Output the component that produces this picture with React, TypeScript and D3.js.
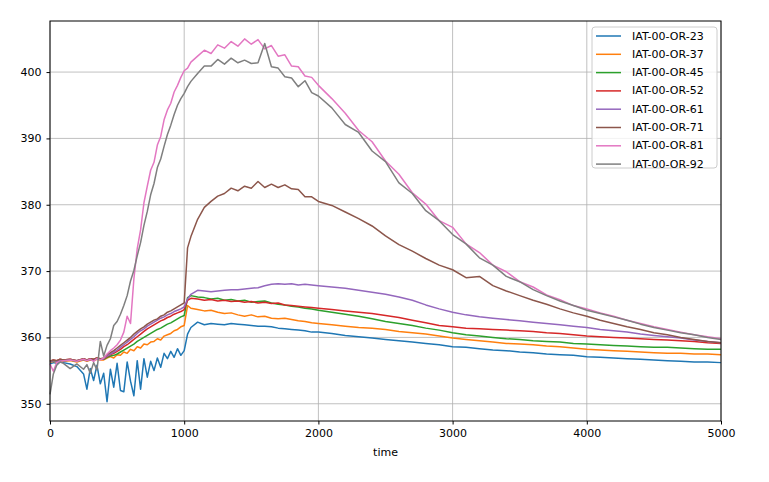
import { useEffect, useRef } from 'react';
import * as d3 from 'd3';

// sample times (s); denser where the traces are noisy
const times = [
  0, 25, 50, 75, 100,
  150, 200, 250,
  275, 300, 325, 350, 375, 400, 425, 450, 475, 500,
  525, 550, 575, 600, 625, 650, 675, 700, 725, 750,
  775, 800, 825, 850, 875, 900, 925, 950, 975, 1000,
  1025, 1050,
  1100, 1150, 1200, 1250, 1300, 1350, 1400, 1450, 1500, 1550, 1600, 1650, 1700, 1750, 1800, 1850, 1900, 1950, 2000,
  2100, 2200, 2300, 2400, 2500, 2600, 2700, 2800, 2900, 3000, 3100, 3200, 3300, 3400, 3500,
  3600, 3700, 3800, 3900, 4000, 4100, 4200, 4300, 4400, 4500, 4600, 4700, 4800, 4900, 5000,
];

const or23 = [
  356, 356.2, 356.1, 356.3, 356.2,
  356, 355.6, 354.5,
  352.2, 355.3, 353.5, 355.8, 353, 354.6, 350.3, 355.2, 352.5, 356.1,
  352, 351.8, 356.3, 353.4, 351.2, 356.5, 352.2, 356.8, 354, 356.4,
  355, 356.9, 355.5, 357.6, 356.8, 357.9, 357, 358.3, 357.3, 358,
  360.5, 361.5,
  362.3, 361.9, 362.1, 362, 361.9, 362.1, 362, 361.9, 361.8, 361.7, 361.7, 361.6, 361.4, 361.3, 361.2, 361.1, 361, 360.8, 360.8,
  360.6, 360.3, 360.1, 359.9, 359.7, 359.5, 359.3, 359.1, 358.9, 358.6, 358.5, 358.3, 358.1, 358, 357.8,
  357.7, 357.5, 357.4, 357.3, 357.1, 357, 356.9, 356.8, 356.7, 356.6, 356.5, 356.4, 356.3, 356.3, 356.2,
];

const or37 = [
  356.2, 356.4, 356.3, 356.5, 356.4,
  356.5, 356.3, 356.6,
  356.4, 356.6, 356.5, 356.7, 356.6, 356.6, 356.9, 357.1, 356.9, 357.4,
  357.3, 357.8, 357.6, 358.2, 358, 358.6, 358.4, 359, 358.9, 359.3,
  359.4, 359.8, 359.6, 360.2, 360.4, 360.6, 361, 361.2, 361.6, 361.8,
  364.8, 364.4,
  364.2, 364, 364.1, 363.8, 363.6, 363.7, 363.4, 363.2, 363.4, 363.1, 363.2, 362.9, 362.8, 362.9, 362.7, 362.5, 362.4, 362.2, 362.1,
  361.9, 361.7, 361.5, 361.4, 361.2, 360.9, 360.7, 360.5, 360.2, 359.9, 359.7, 359.5, 359.3, 359.1, 359,
  358.9, 358.7, 358.6, 358.4, 358.2, 358.1, 358, 357.9, 357.8, 357.7, 357.6, 357.6, 357.5, 357.5, 357.4,
];

const or45 = [
  356.3, 356.5, 356.4, 356.6, 356.5,
  356.6, 356.4, 356.7,
  356.5, 356.7, 356.6, 356.8, 356.7, 356.7, 357, 357.2, 357.3, 357.5,
  357.8, 358.1, 358.4, 358.7, 359, 359.4, 359.7, 360, 360.3, 360.6,
  360.9, 361.2, 361.4, 361.7, 362, 362.2, 362.5, 362.8, 363.1, 363.3,
  366, 366.3,
  366.1, 366, 365.8, 365.9, 365.6, 365.7, 365.5, 365.6, 365.3, 365.4, 365.5, 365.2, 365, 364.9, 364.7, 364.6, 364.4, 364.3, 364.1,
  363.8, 363.5, 363.2, 362.8, 362.4, 362.1, 361.8, 361.4, 361.1, 360.7, 360.4, 360.2, 360, 359.8, 359.7,
  359.5, 359.4, 359.3, 359.1, 359, 358.9, 358.8, 358.7, 358.6, 358.5, 358.5, 358.4, 358.3, 358.2, 358.2,
];

const or52 = [
  356.4, 356.6, 356.5, 356.7, 356.6,
  356.7, 356.5, 356.8,
  356.6, 356.8, 356.7, 356.9, 356.8, 356.8, 357.1, 357.4, 357.6, 357.9,
  358.2, 358.6, 358.9, 359.3, 359.7, 360.1, 360.5, 360.9, 361.3, 361.6,
  361.9, 362.2, 362.5, 362.7, 363, 363.2, 363.5, 363.7, 363.9, 364.2,
  365.6, 365.9,
  365.8, 365.6, 365.7, 365.5, 365.6, 365.4, 365.5, 365.3, 365.4, 365.2, 365.3, 365.1, 365.2, 364.9, 364.8, 364.7, 364.6, 364.5, 364.4,
  364.2, 364, 363.8, 363.6, 363.3, 363, 362.6, 362.2, 361.8, 361.6, 361.4, 361.3, 361.2, 361.1, 361,
  360.9, 360.7, 360.6, 360.4, 360.2, 360.1, 360, 359.9, 359.8, 359.7, 359.6, 359.5, 359.4, 359.2, 359.1,
];

const or61 = [
  356.3, 356.5, 356.4, 356.6, 356.5,
  356.6, 356.5, 356.7,
  356.5, 356.7, 356.6, 356.8, 356.7, 356.8, 357.2, 357.5, 357.8, 358.1,
  358.5, 358.9, 359.3, 359.7, 360.1, 360.6, 361, 361.3, 361.7, 362,
  362.3, 362.6, 362.9, 363.1, 363.4, 363.6, 363.9, 364.1, 364.3, 364.6,
  365.8, 366.5,
  367.1, 367, 366.9, 367, 367.1, 367.2, 367.2, 367.3, 367.4, 367.5, 367.8, 368, 368.1, 368, 368.1, 367.9, 368, 367.9, 367.8,
  367.6, 367.4, 367.1, 366.8, 366.5, 366.1, 365.6, 364.9, 364.3, 363.8, 363.4, 363.1, 362.9, 362.7, 362.5,
  362.3, 362.1, 361.9, 361.7, 361.5, 361.2, 361, 360.8, 360.5, 360.3, 360.1, 359.9, 359.6, 359.4, 359.2,
];

const or71 = [
  356.4, 356.6, 356.5, 356.7, 356.6,
  356.7, 356.5, 356.8,
  356.6, 356.8, 356.7, 356.9, 356.8, 356.9, 357.4, 357.7, 358, 358.4,
  358.8, 359.2, 359.6, 360, 360.5, 360.9, 361.3, 361.6, 362, 362.3,
  362.6, 362.8, 363.2, 363.4, 363.8, 364, 364.3, 364.6, 364.9, 365.2,
  373.5, 375.2,
  377.8, 379.6, 380.5, 381.3, 381.7, 382.5, 382.1, 382.8, 382.5, 383.5, 382.6, 383.1, 382.6, 383, 382.4, 382.3, 381.2, 381.2, 380.5,
  379.9, 378.9, 377.9, 376.8, 375.3, 374, 373, 371.9, 370.9, 370.2, 369, 369.2, 367.8, 367, 366.3,
  365.6, 365, 364.3, 363.7, 363.2, 362.6, 362.1, 361.6, 361.2, 360.7, 360.4, 360, 359.7, 359.4, 359.2,
];

const or81 = [
  356, 354.9, 356.2, 356.4, 356.5,
  356.6, 356.4, 356.7,
  356.5, 356.7, 356.4, 356.8, 356.6, 356.9, 357.5, 358, 358.4, 358.9,
  359.6, 360.8, 363.2, 362.1, 368.8, 373.4, 376.2, 380.3, 382.8, 385.2,
  386.4, 389, 390.3, 392.8, 394.3, 395.3, 397, 398, 399.2, 400.2,
  400.6, 401.5,
  402.4, 403.3, 402.8, 404.1, 403.6, 404.6, 403.9, 405, 404.2, 404.9, 403.5, 404, 402.4, 402.6, 400.9, 400.8, 399.4, 399.2, 398,
  396, 393.8, 391.2, 389.5, 386.6, 384.6, 381.8, 380.1, 377.6, 376.6, 374.1, 372.8, 370.9, 369.9, 368.4,
  367.6, 366.4, 365.7, 364.8, 364.3, 363.7, 363.2, 362.6, 362.1, 361.6, 361.2, 360.8, 360.4, 360.1, 359.8,
];

const or92 = [
  351.4, 354.5, 355.8, 356.3, 356.1,
  355.3, 356, 355.2,
  355.9, 354.6, 356.2, 355.1, 359.4, 357.2, 358.8, 359.8, 361.8, 362.4,
  363.5, 364.8, 366.3, 368.5, 370.1, 372.3, 374.3, 376.9, 379, 381.5,
  383.2, 385.6, 386.9, 388.8, 390.6, 392, 393.6, 395, 396, 396.8,
  397.8, 398.6,
  399.8, 400.9, 400.9, 401.9, 401.2, 402.1, 401.4, 401.8, 401.3, 401.4, 404.3, 400.8, 400.6, 399.3, 399.1, 397.8, 398.7, 396.9, 396.4,
  394.6, 392.1, 390.9, 388.1, 386.5, 383.3, 381.7, 379.1, 377.6, 375.5, 374.1, 372, 370.9, 369.2, 368.4,
  367.2, 366.3, 365.5, 364.8, 364.1, 363.6, 363.1, 362.6, 362, 361.5, 361.1, 360.7, 360.4, 360, 359.7,
];

const seriesNames = [
  'IAT-00-OR-23', 'IAT-00-OR-37', 'IAT-00-OR-45', 'IAT-00-OR-52',
  'IAT-00-OR-61', 'IAT-00-OR-71', 'IAT-00-OR-81', 'IAT-00-OR-92',
];
const seriesValues = [or23, or37, or45, or52, or61, or71, or81, or92];
const seriesColors = [
  '#1f77b4', '#ff7f0e', '#2ca02c', '#d62728',
  '#9467bd', '#8c564b', '#e377c2', '#7f7f7f',
];

const xTicks = [0, 1000, 2000, 3000, 4000, 5000];
const yTicks = [350, 360, 370, 380, 390, 400];

const Chart = () => {
  const ref = useRef<SVGSVGElement | null>(null);

  useEffect(() => {
    if (!ref.current) return;
    const svg = d3.select(ref.current);
    svg.selectAll('*').remove();

    const width = 769;
    const height = 482;
    const margin = { top: 21, right: 48, bottom: 61, left: 50 };
    const font = 'DejaVu Sans, sans-serif';

    svg.attr('width', width).attr('height', height);

    const x = d3.scaleLinear().domain([0, 5000]).range([margin.left, width - margin.right]);
    const y = d3.scaleLinear().domain([347.4, 407.7]).range([height - margin.bottom, margin.top]);

    svg.append('rect').attr('width', width).attr('height', height).attr('fill', '#fff');

    // grid
    const grid = svg.append('g').attr('stroke', '#b0b0b0').attr('stroke-width', 0.8);
    grid.selectAll('line.vx').data(xTicks).join('line')
      .attr('x1', (d) => x(d)).attr('x2', (d) => x(d))
      .attr('y1', margin.top).attr('y2', height - margin.bottom);
    grid.selectAll('line.hy').data(yTicks).join('line')
      .attr('x1', margin.left).attr('x2', width - margin.right)
      .attr('y1', (d) => y(d)).attr('y2', (d) => y(d));

    // series
    const line = d3.line<number>()
      .x((_, i) => x(times[i]))
      .y((d) => y(d));

    seriesValues.forEach((vals, k) => {
      svg.append('path')
        .datum(vals)
        .attr('fill', 'none')
        .attr('stroke', seriesColors[k])
        .attr('stroke-width', 1.5)
        .attr('stroke-linejoin', 'round')
        .attr('d', line);
    });

    // axes
    const xAxis = svg.append('g')
      .attr('transform', `translate(0,${height - margin.bottom})`)
      .call(d3.axisBottom(x).tickValues(xTicks).tickSize(3.5).tickPadding(5).tickFormat(d3.format('d')));
    const yAxis = svg.append('g')
      .attr('transform', `translate(${margin.left},0)`)
      .call(d3.axisLeft(y).tickValues(yTicks).tickSize(3.5).tickPadding(5).tickFormat(d3.format('d')));
    [xAxis, yAxis].forEach((g) => {
      g.select('.domain').remove();
      g.selectAll('text').attr('font-family', font).attr('font-size', 11).attr('fill', '#000');
      g.selectAll('line').attr('stroke', '#000');
    });

    // frame
    svg.append('rect')
      .attr('x', margin.left).attr('y', margin.top)
      .attr('width', width - margin.left - margin.right)
      .attr('height', height - margin.top - margin.bottom)
      .attr('fill', 'none').attr('stroke', '#000').attr('stroke-width', 1);

    svg.append('text')
      .attr('x', (margin.left + width - margin.right) / 2)
      .attr('y', 456)
      .attr('text-anchor', 'middle')
      .attr('font-family', font).attr('font-size', 11)
      .text('time');

    // legend
    const legend = svg.append('g');
    legend.append('rect')
      .attr('x', 592).attr('y', 27).attr('width', 125).attr('height', 141).attr('rx', 3)
      .attr('fill', '#fff').attr('fill-opacity', 0.8)
      .attr('stroke', '#cccccc').attr('stroke-width', 1);
    seriesNames.forEach((name, k) => {
      const ly = 36 + k * 18.3;
      legend.append('line')
        .attr('x1', 596).attr('x2', 621).attr('y1', ly).attr('y2', ly)
        .attr('stroke', seriesColors[k]).attr('stroke-width', 1.5);
      legend.append('text')
        .attr('x', 632).attr('y', ly)
        .attr('dominant-baseline', 'central')
        .attr('font-family', font).attr('font-size', 11)
        .text(name);
    });
  }, []);

  return <svg ref={ref} style={{ position: 'absolute', left: 0, top: 0 }} />;
};

export default function App() {
  return <Chart />;
}
